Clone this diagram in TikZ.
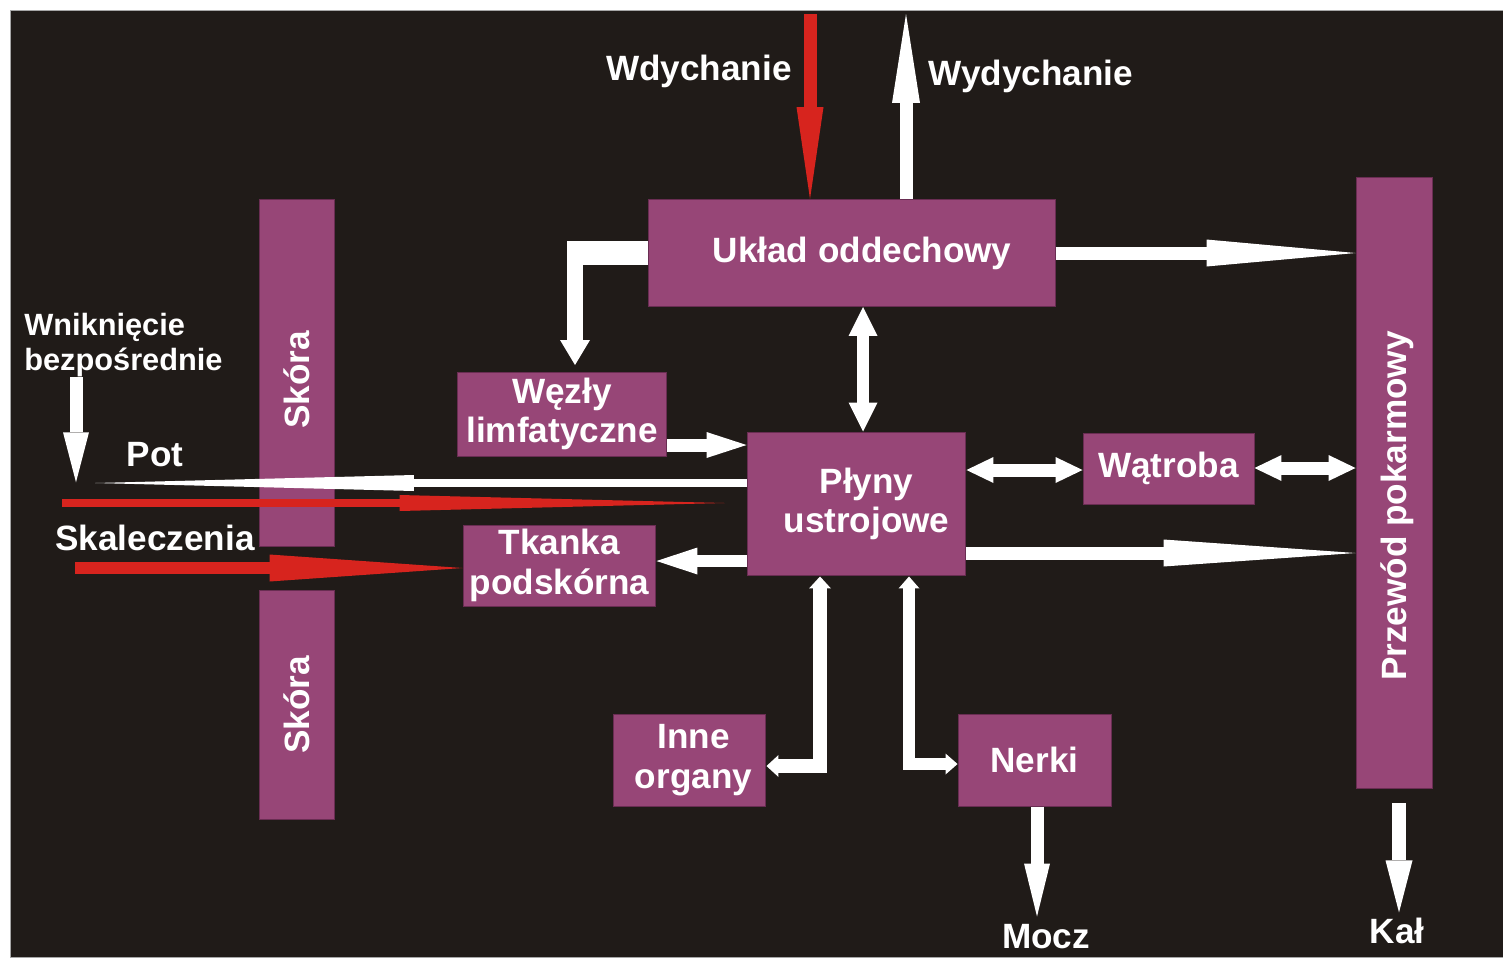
\documentclass[tikz,border=0pt]{standalone}
\usepackage{fontspec}
\setmainfont{Liberation Sans}
\usetikzlibrary{arrows.meta, positioning, calc}

\definecolor{bgdark}{RGB}{32,27,24}
\definecolor{organ}{RGB}{151,70,119}
\definecolor{organline}{RGB}{105,45,82}
\definecolor{inflow}{RGB}{215,36,30}

\begin{document}
\begin{tikzpicture}[x=0.02cm, y=-0.02cm,
    box/.style={draw=organline, line width=0.2mm, fill=organ, text=white, align=center, inner sep=0pt, font=\bfseries\fontsize{20}{22.5}\selectfont},
    lbl/.style={text=white, align=center, inner sep=0pt, font=\bfseries\fontsize{20}{22.5}\selectfont},
    flow/.style={draw=white, line width=2.6mm},
    redflow/.style={draw=inflow, line width=2.6mm},
    onehead/.style 2 args={-{Triangle[length=#1,width=#2,line width=0pt]}},
    twoheads/.style 2 args={{Triangle[length=#1,width=#2,line width=0pt]}-{Triangle[length=#1,width=#2,line width=0pt]}}
  ]
  % canvas
  \fill[white] (0,0) rectangle (1503,957);
  \useasboundingbox (0,0) rectangle (1503,957);
  \filldraw[fill=bgdark, draw=gray!70, line width=0.2mm] (10,10) rectangle (1503,957);

  % organs
  \node[box, minimum width=81.4mm, minimum height=21.4mm] (ukl) at (852,253) {\hspace*{4mm}Układ oddechowy};
  \node[box, minimum width=15.2mm, minimum height=122.4mm] (jelito) at (1394,483) {};
  \node[lbl, rotate=90] (jelitoTxt) at (1397,506) {Przewód pokarmowy};
  \node[box, rotate=90, minimum width=69.6mm, minimum height=15.2mm] (skoraA) at (297,373) {Skóra\hspace*{2.8mm}};
  \node[box, rotate=90, minimum width=46mm, minimum height=15.2mm] (skoraB) at (297,705) {Skóra};
  \node[box, minimum width=42mm, minimum height=16.8mm] (wezly) at (562,414) {Węzły\\limfatyczne};
  \node[box, minimum width=38.6mm, minimum height=16.2mm] (tkanka) at (559.5,565.5) {Tkanka\\podskórna};
  \node[box, minimum width=43.8mm, minimum height=28.8mm] (plyny) at (856.5,504) {\hspace*{4mm}Płyny\\\hspace*{4mm}ustrojowe};
  \node[box, minimum width=34.2mm, minimum height=14.2mm] (watroba) at (1168.5,468.5) {Wątroba};
  \node[box, minimum width=30.6mm, minimum height=18.4mm] (inne) at (689.5,760) {\hspace*{1.6mm}Inne\\\hspace*{1.6mm}organy};
  \node[box, minimum width=30.6mm, minimum height=18.4mm] (nerki) at (1034.5,760) {Nerki};

  % labels
  \node[lbl] (wdech) at (699,71) {Wdychanie};
  \node[lbl] (wydech) at (1031,76) {Wydychanie};
  \node[lbl, align=left, anchor=west, font=\bfseries\fontsize{17.5}{20}\selectfont] (wnik) at (24,345) {Wniknięcie\\bezpośrednie};
  \node[lbl] (pot) at (155,455) {Pot};
  \node[lbl] (skal) at (155,538) {Skaleczenia};
  \node[lbl] (mocz) at (1046,937) {Mocz};
  \node[lbl] (kal) at (1397,931) {Kał};

  % free ends
  \coordinate (wdechTop) at (810,14);
  \coordinate (wydechTop) at (906,14);
  \coordinate (potTip) at (95,483);
  \coordinate (wnikStart) at (62,503);
  \coordinate (cutStart) at (75,568);
  \coordinate (bend) at (575,241);
  \coordinate (limfIn) at (575,365);

  % breathing
  \draw[redflow, onehead={18.4mm}{5.4mm}] (wdechTop) -- (wdechTop |- ukl.north);
  \draw[flow, onehead={17.8mm}{5.6mm}] (wydechTop |- ukl.north) -- (wydechTop);
  \draw[flow, onehead={29.8mm}{5.4mm}] (ukl.east) -- (ukl.east -| jelito.west);
  \draw[flow, line width=4.8mm] (ukl.west) -- (ukl.west -| 567,0);
  \draw[flow, line width=3.2mm, onehead={5mm}{6mm}] (bend) -- (limfIn);
  \draw[flow, line width=2.4mm, twoheads={5.8mm}{5.8mm}] (ukl.south -| 863,0) -- (plyny.north -| 863,0);

  % skin side
  \draw[flow, onehead={8mm}{5.2mm}] (wezly.east |- 0,445) -- (plyny.west |- 0,445);
  \draw[flow, line width=1.6mm, onehead={63.8mm}{3.2mm}] (plyny.west |- potTip) -- (potTip);
  \draw[redflow, line width=1.6mm, onehead={65mm}{3.2mm}] (wnikStart) -- ($(plyny.west |- wnikStart)+(-22,0)$);
  \draw[redflow, line width=2.4mm, onehead={38.6mm}{5.4mm}] (cutStart) -- (tkanka.west |- cutStart);
  \draw[flow, onehead={10mm}{5.2mm}] (wnik.south -| 76,0) -- ++(0,105);
  \draw[flow, line width=2.4mm, onehead={8.2mm}{5.4mm}] (plyny.west |- 0,561) -- (tkanka.east |- 0,561);

  % liver and gut
  \draw[flow, twoheads={5.4mm}{5.2mm}] (plyny.east |- 0,470) -- (watroba.west |- 0,470);
  \draw[flow, twoheads={5.4mm}{5.2mm}] (watroba.east |- 0,468) -- (jelito.west |- 0,468);
  \draw[flow, onehead={38.4mm}{5.4mm}] (plyny.east |- 0,553) -- (jelito.west |- 0,553);
  \draw[flow, line width=2.8mm, onehead={10.4mm}{5.4mm}] ($(jelito.south -| 1399,0)+(0,14)$) -- ++(0,109);

  % other organs and kidneys
  \draw[flow, line width=2.7mm, twoheads={2.4mm}{4.4mm}] (inne.east |- 0,766) -| (plyny.south -| 820,0);
  \draw[flow, line width=2.4mm, twoheads={2.4mm}{4.2mm}] (plyny.south -| 909,0) |- (nerki.west |- 0,764);
  \draw[flow, onehead={10.6mm}{5.2mm}] (nerki.south -| 1037,0) -- ++(0,110);
\end{tikzpicture}
\end{document}
